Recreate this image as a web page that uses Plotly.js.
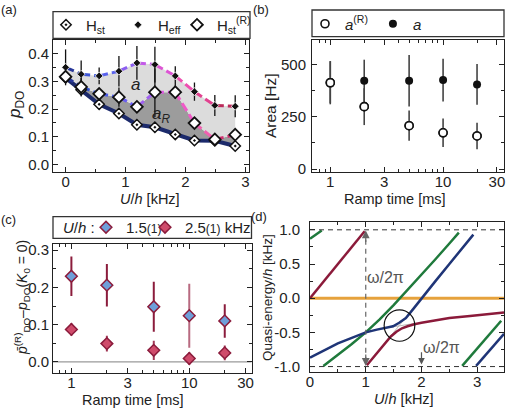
<!DOCTYPE html>
<html><head><meta charset="utf-8">
<script src="https://cdn.plot.ly/plotly-3.0.1.min.js"></script>
<style>html,body{margin:0;padding:0;background:#fff}#chart{width:508px;height:410px}</style>
</head><body><div id="chart"></div>
<script>
// ---------- Panel (a) data ----------
const U_a   = [0.0, 0.26, 0.56, 0.89, 1.19, 1.49, 1.83, 2.15, 2.49, 2.83];
const pHeff = [0.351, 0.326, 0.320, 0.337, 0.367, 0.361, 0.320, 0.263, 0.213, 0.210];
const pHeffErr = [0.065, 0.05, 0.03, 0.055, 0.061, 0.065, 0.035, 0.033, 0.038, 0.04];
const pHstR = [0.317, 0.280, 0.255, 0.243, 0.208, 0.261, 0.261, 0.149, 0.090, 0.107];
const pHstRErr = [0.02, 0.035, 0.02, 0.035, 0.02, 0.09, 0.025, 0.02, 0.015, 0.02];
const pHst  = [0.313, 0.270, 0.217, 0.184, 0.143, 0.134, 0.108, 0.086, 0.085, 0.066];
const pHstErr = [0.01, 0.01, 0.01, 0.01, 0.01, 0.01, 0.01, 0.01, 0.01, 0.01];
const effColors = ['#27379a','#3d55d6','#5a63ee','#8c5ef0','#c35ae8','#dd55d4','#ee4fb0','#e2418f','#bb2a5a'];
const rColors   = ['#27379a','#3050d0','#4a5ae8','#6a5ef0','#a060f0','#dc58e0','#f05ac8','#f060b0','#d03070'];

// ---------- Panel (b) data ----------
const rampB = [1, 2, 5, 10, 20];
const areaR = [412, 298, 207, 173, 158];
const areaRErr = [103, 88, 72, 68, 63];
const areaA = [415, 422, 422, 425, 404];
const areaAErr = [100, 100, 123, 102, 97];

// ---------- Panel (c) data ----------
const rampC = [1, 2, 5, 10, 20];
const d15 = [0.230, 0.206, 0.148, 0.124, 0.110];
const d15Err = [0.053, 0.057, 0.067, 0.086, 0.045];
const d25 = [0.087, 0.049, 0.031, 0.009, 0.024];
const d25Err = [0.017, 0.021, 0.026, 0.017, 0.020];

// ---------- Panel (d) data ----------
const Uo  = [0, 3.48];                 const Eo  = [0, 0];
const Ur1 = [0, 0.98];                 const Er1 = [0, 0.98];
const Ur2 = [1.02, 1.2, 1.35, 1.45, 1.55, 1.65, 1.75, 1.87, 2.0, 2.27, 2.5, 2.87, 3.2, 3.48];
const Er2 = [-0.98, -0.80, -0.65, -0.56, -0.49, -0.44, -0.41, -0.38, -0.36, -0.32, -0.29, -0.26, -0.23, -0.21];
const Ub1 = [0, 0.25, 0.5, 0.75, 1.0, 1.2, 1.35, 1.49, 1.6, 1.72, 1.85, 2.0, 2.25, 2.5, 2.93];
const Eb1 = [-0.87, -0.76, -0.66, -0.58, -0.50, -0.46, -0.43, -0.41, -0.36, -0.29, -0.16, 0.0, 0.25, 0.5, 0.93];
const Ub2 = [2.98, 3.48];              const Eb2 = [-0.99, -0.52];
const Ug1 = [0, 0.21];                 const Eg1 = [0.87, 0.99];
const Ug2 = [0.24, 0.5, 0.75, 1.0, 1.25, 1.5, 1.75, 2.0, 2.25, 2.5, 2.67];
const Eg2 = [-0.99, -0.83, -0.67, -0.50, -0.31, -0.10, 0.12, 0.34, 0.57, 0.80, 0.96];
const Ug3 = [2.73, 3.0, 3.25, 3.43];   const Eg3 = [-0.99, -0.74, -0.51, -0.33];
const Ux1 = [1.33, 1.6, 1.87];         const Ex1 = [-0.44, -0.41, -0.37];
const Ux2 = [1.4, 1.8];                const Ex2 = [-0.60, -0.20];

const F = 'Liberation Sans, Arial, Helvetica, sans-serif';
const TXT = '#222';
const X = v => v / 508, Y = v => 1 - v / 410;
const T = [];

// ----- (a) fills -----
T.push({x:U_a, y:pHst, mode:'lines', line:{width:0, color:'rgba(0,0,0,0)'}, showlegend:false, hoverinfo:'skip', xaxis:'x', yaxis:'y'});
T.push({x:U_a, y:pHstR, mode:'lines', line:{width:0, color:'rgba(0,0,0,0)'}, fill:'tonexty', fillcolor:'#9c9c9c', showlegend:false, hoverinfo:'skip', xaxis:'x', yaxis:'y'});
T.push({x:U_a, y:pHeff, mode:'lines', line:{width:0, color:'rgba(0,0,0,0)'}, fill:'tonexty', fillcolor:'#dcdcdc', showlegend:false, hoverinfo:'skip', xaxis:'x', yaxis:'y'});
T.push({x:U_a, y:pHst, mode:'lines', line:{width:4, color:'#1c2a6b'}, showlegend:false, hoverinfo:'skip', xaxis:'x', yaxis:'y'});
for (let i = 0; i < U_a.length - 1; i++) {
  T.push({x:U_a.slice(i, i+2), y:pHstR.slice(i, i+2), mode:'lines', line:{width:3, color:rColors[i], dash:'9px,4px'}, showlegend:false, hoverinfo:'skip', xaxis:'x', yaxis:'y'});
  T.push({x:U_a.slice(i, i+2), y:pHeff.slice(i, i+2), mode:'lines', line:{width:3, color:effColors[i], dash:'9px,4px'}, showlegend:false, hoverinfo:'skip', xaxis:'x', yaxis:'y'});
}
T.push({name:'H<sub>st</sub>', x:U_a, y:pHst, mode:'markers', error_y:{type:'data', array:pHstErr, color:'#111', thickness:1.3, width:0},
  marker:{symbol:'diamond-dot', size:8, color:'#fff', line:{color:'#111', width:1.5}}, xaxis:'x', yaxis:'y', legend:'legend'});
T.push({name:'H<sub>eff</sub>', x:U_a, y:pHeff, mode:'markers', error_y:{type:'data', array:pHeffErr, color:'#111', thickness:1.3, width:0},
  marker:{symbol:'diamond', size:6, color:'#111', line:{color:'#fff', width:0.8}}, xaxis:'x', yaxis:'y', legend:'legend4'});
T.push({name:'H<sub>st</sub><sup>(R)</sup>', x:U_a, y:pHstR, mode:'markers', error_y:{type:'data', array:pHstRErr, color:'#111', thickness:1.3, width:0},
  marker:{symbol:'diamond', size:9, color:'#fff', line:{color:'#111', width:1.8}}, xaxis:'x', yaxis:'y', legend:'legend5'});

// ----- (b) -----
T.push({name:'<i>a</i><sup>(R)</sup>', x:rampB, y:areaR, mode:'markers', error_y:{type:'data', array:areaRErr, color:'#444', thickness:1.6, width:0},
  marker:{symbol:'circle', size:8, color:'#fff', line:{color:'#111', width:1.6}}, xaxis:'x2', yaxis:'y2', legend:'legend2'});
T.push({name:'<i>a</i>', x:rampB, y:areaA, mode:'markers', error_y:{type:'data', array:areaAErr, color:'#444', thickness:1.6, width:0},
  marker:{symbol:'circle', size:8, color:'#111'}, xaxis:'x2', yaxis:'y2', legend:'legend2'});
T.push({x:rampB, y:areaR, mode:'markers', showlegend:false, hoverinfo:'skip',
  marker:{symbol:'circle', size:8, color:'#fff', line:{color:'#111', width:1.6}}, xaxis:'x2', yaxis:'y2'});

// ----- (c) -----
const d15ErrDark = d15Err.map((e, i) => i === 3 ? 0 : e);
const d15ErrLight = d15Err.map((e, i) => i === 3 ? e : 0);
T.push({x:rampC, y:d15, mode:'markers', showlegend:false, hoverinfo:'skip', marker:{size:1, color:'rgba(0,0,0,0)'},
  error_y:{type:'data', array:d15ErrLight, color:'#b86a80', thickness:2, width:0}, xaxis:'x3', yaxis:'y3'});
T.push({name:'1.5<span style="font-size:12px">(1)</span>', x:rampC, y:d15, mode:'markers', error_y:{type:'data', array:d15ErrDark, color:'#8b1c3c', thickness:2, width:0},
  marker:{symbol:'diamond', size:9, color:'#6e9fd9', line:{color:'#8b1c3c', width:1.5}}, xaxis:'x3', yaxis:'y3', legend:'legend3'});
T.push({name:'2.5<span style="font-size:12px">(1)</span> kHz', x:rampC, y:d25, mode:'markers', error_y:{type:'data', array:d25Err, color:'#a33a58', thickness:2, width:0},
  marker:{symbol:'diamond', size:9, color:'#cf4b6b', line:{color:'#8b1c3c', width:1.5}}, xaxis:'x3', yaxis:'y3', legend:'legend6'});

// ----- (d) -----
const dl = (x, y, c, w) => ({x, y, mode:'lines', line:{color:c, width:w}, showlegend:false, hoverinfo:'skip', xaxis:'x4', yaxis:'y4'});
T.push(dl(Ux1, Ex1, '#b8b8b8', 1));
T.push(dl(Ux2, Ex2, '#b8b8b8', 1));
T.push(dl(Uo, Eo, '#e6a23c', 3));
T.push(dl(Ug1, Eg1, '#1f7a3c', 2.5));
T.push(dl(Ug2, Eg2, '#1f7a3c', 2.5));
T.push(dl(Ug3, Eg3, '#1f7a3c', 2.5));
T.push(dl(Ub1, Eb1, '#1f3577', 2.5));
T.push(dl(Ub2, Eb2, '#1f3577', 2.5));
T.push(dl(Ur1, Er1, '#8b1a3a', 2.5));
T.push(dl(Ur2, Er2, '#8b1a3a', 2.5));

function ax(extra) {
  return Object.assign({showline:true, linecolor:'#222', linewidth:1, mirror:'ticks', ticks:'inside', ticklen:5, tickwidth:1,
    tickcolor:'#222', showgrid:false, zeroline:false, fixedrange:true, tickfont:{family:F, size:15, color:TXT}}, extra);
}
const minorLog = {ticks:'inside', ticklen:3, tickcolor:'#222', tickvals:[0.7,0.8,0.9,2,4,5,6,7,8,9,20]};
const legFont = {family:F, size:15, color:TXT};
const leg = (xs, ys) => ({orientation:'h', x:X(xs - 19), xanchor:'left', y:Y(ys), yanchor:'middle', bgcolor:'rgba(0,0,0,0)', font:legFont});
const P = (text, xp, yp, size, extra) => Object.assign({text, xref:'paper', yref:'paper', x:X(xp), y:Y(yp), xanchor:'center', yanchor:'middle',
  showarrow:false, font:{family:F, size, color:TXT}}, extra || {});

const layout = {
  width:508, height:410, margin:{l:0, r:0, t:0, b:0}, paper_bgcolor:'#fff', plot_bgcolor:'#fff',
  font:{family:F, size:15, color:TXT},
  xaxis: ax({domain:[X(53), X(249)], range:[-0.21, 3.06], tickvals:[0,1,2,3], ticktext:['0','1','2','3'], ticklabelstandoff:-4,
    minor:{ticks:'inside', ticklen:3, tickcolor:'#222', tickvals:[0.5,1.5,2.5]}, anchor:'y'}),
  yaxis: ax({domain:[Y(172), Y(40)], range:[-0.028, 0.45], tickvals:[0,0.1,0.2,0.3,0.4], ticktext:['0.0','0.1','0.2','0.3','0.4'],
    minor:{ticks:'inside', ticklen:3, tickcolor:'#222', tickvals:[0.05,0.15,0.25,0.35]}, anchor:'x'}),
  xaxis2: ax({type:'log', domain:[X(312), X(504)], range:[-0.162, 1.54], tickvals:[1,3,10,30], ticktext:['1','3','10','30'], ticklabelstandoff:-4, minor:minorLog, anchor:'y2'}),
  yaxis2: ax({domain:[Y(172), Y(40)], range:[-14, 616], tickvals:[0,250,500], ticktext:['0','250','500'], ticklabelstandoff:2,
    minor:{ticks:'inside', ticklen:3, tickcolor:'#222', tickvals:[125,375]}, anchor:'x2'}),
  xaxis3: ax({type:'log', domain:[X(53), X(251.5)], range:[-0.156, 1.528], tickvals:[1,3,10,30], ticktext:['1','3','10','30'], ticklabelstandoff:-4, minor:minorLog, anchor:'y3'}),
  yaxis3: ax({domain:[Y(373), Y(243.5)], range:[-0.03, 0.318], tickvals:[0,0.1,0.2,0.3], ticktext:['0.0','0.1','0.2','0.3'],
    minor:{ticks:'inside', ticklen:3, tickcolor:'#222', tickvals:[0.05,0.15,0.25]}, anchor:'x3'}),
  xaxis4: ax({domain:[X(310), X(504)], range:[0, 3.48], tickvals:[0,1,2,3], ticktext:['0','1','2','3'], ticklabelstandoff:-4,
    minor:{ticks:'inside', ticklen:3, tickcolor:'#222', tickvals:[0.5,1.5,2.5]}, anchor:'y4'}),
  yaxis4: ax({domain:[Y(371.7), Y(222.3)], range:[-1.075, 1.11], tickvals:[-1,-0.5,0,0.5,1], ticktext:['-1.0','-0.5','0.0','0.5','1.0'], ticklabelstandoff:6,
    minor:{ticks:'inside', ticklen:3, tickcolor:'#222', tickvals:[-0.75,-0.25,0.25,0.75]}, anchor:'x4'}),
  legend:  leg(65, 25),
  legend4: leg(137, 25),
  legend5: leg(196, 25),
  legend2: Object.assign(leg(324, 24), {traceorder:'normal'}),
  legend3: leg(105, 227.5),
  legend6: leg(164, 227.5),
  shapes: [
    {type:'rect', xref:'paper', yref:'paper', x0:X(53), x1:X(250), y0:Y(38.3), y1:Y(11.7), line:{color:'#333', width:1.3}},
    {type:'rect', xref:'paper', yref:'paper', x0:X(312), x1:X(504), y0:Y(36.7), y1:Y(10), line:{color:'#333', width:1.3}},
    {type:'rect', xref:'paper', yref:'paper', x0:X(53), x1:X(251.5), y0:Y(238.3), y1:Y(216.7), line:{color:'#333', width:1.3}},
    {type:'line', xref:'x3 domain', yref:'y3', x0:0, x1:1, y0:0, y1:0, line:{color:'#9a9a9a', width:1.2}, layer:'below'},
    {type:'line', xref:'x4 domain', yref:'y4', x0:0, x1:1, y0:1, y1:1, line:{color:'#333', width:1, dash:'5px,4px'}},
    {type:'line', xref:'x4 domain', yref:'y4', x0:0, x1:1, y0:-1, y1:-1, line:{color:'#333', width:1, dash:'5px,4px'}},
    {type:'line', xref:'x4', yref:'y4', x0:1, x1:1, y0:-0.93, y1:0.93, line:{color:'#666', width:1.2, dash:'5px,4px'}},
    {type:'circle', xref:'x4', yref:'y4', x0:1.33, x1:1.88, y0:-0.63, y1:-0.17, line:{color:'#111', width:1.2}}
  ],
  annotations: [
    P('(a)', 9, 9.5, 13),
    P('(b)', 261, 9, 13),
    P('(c)', 8, 219, 13),
    P('(d)', 259, 216, 13),
    P('<i>U</i>/<i>h</i> :', 79, 227.5, 15),
    P('<i>U</i>/<i>h</i> [kHz]', 150, 199, 14.5),
    P('<i>p</i><sub>DO</sub>', 16, 105, 17, {textangle:-90}),
    P('Ramp time [ms]', 395, 199, 14.5),
    P('Area [Hz]', 270, 106, 15.5, {textangle:-90}),
    P('Ramp time [ms]', 133, 400, 14.5),
    P('<i>p̄</i><sup>(R)</sup><sub>DO</sub>–<i>p</i><sub>DO</sub>(<i>K</i><sub>0</sub> = 0)', 22, 298, 14, {textangle:-90}),
    P('<i>U</i>/<i>h</i> [kHz]', 404, 399, 14.5),
    P('Quasi-energy/<i>h</i> [kHz]', 267, 298, 13.5, {textangle:-90}),
    {text:'<i>a</i>', xref:'x', yref:'y', x:1.16, y:0.29, showarrow:false, font:{size:17, color:'#222'}},
    {text:'<i>a<sub>R</sub></i>', xref:'x', yref:'y', x:1.6, y:0.18, showarrow:false, font:{size:17, color:'#222'}},
    {text:'ω/2π', xref:'x4', yref:'y4', x:1.35, y:0.30, showarrow:false, font:{size:16, color:'#555'}},
    {text:'ω/2π', xref:'x4', yref:'y4', x:2.36, y:-0.72, showarrow:false, font:{size:16, color:'#555'}},
    {text:'', xref:'x4', yref:'y4', x:1, y:0.99, ax:1, ay:0.8, axref:'x4', ayref:'y4', showarrow:true, arrowhead:2, arrowsize:1.3, arrowwidth:1.2, arrowcolor:'#666'},
    {text:'', xref:'x4', yref:'y4', x:1, y:-0.99, ax:1, ay:-0.8, axref:'x4', ayref:'y4', showarrow:true, arrowhead:2, arrowsize:1.3, arrowwidth:1.2, arrowcolor:'#666'},
    {text:'', xref:'x4', yref:'y4', x:2, y:-0.97, ax:2, ay:-0.77, axref:'x4', ayref:'y4', showarrow:true, arrowhead:2, arrowsize:1.1, arrowwidth:1.2, arrowcolor:'#555'}
  ]
};
Plotly.newPlot('chart', T, layout, {staticPlot:true, displayModeBar:false});
</script></body></html>
